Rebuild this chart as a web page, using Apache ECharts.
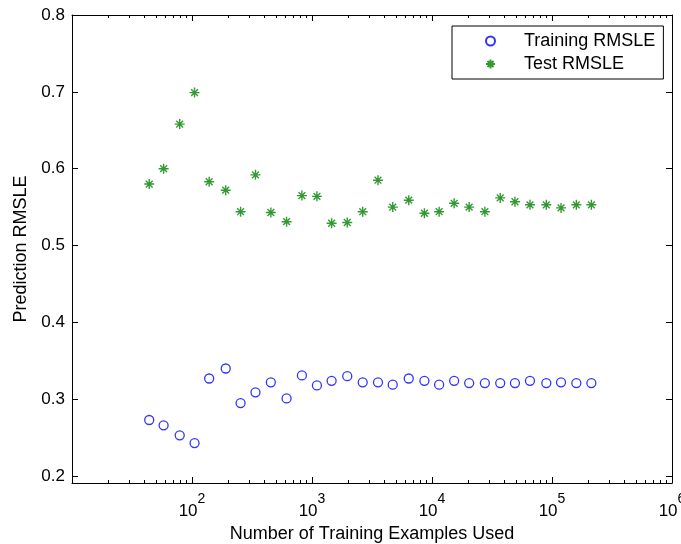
<!DOCTYPE html>
<html>
<head>
<meta charset="utf-8">
<script src="https://cdn.jsdelivr.net/npm/echarts@6/dist/echarts.min.js"></script>
<style>
  html, body { margin: 0; padding: 0; background: #fff; }
  #main { width: 681px; height: 544px; }
</style>
</head>
<body>
<div id="main"></div>
<script>
// training set sizes (x, log scale)
var trainSizes = [44, 58, 79, 105, 139, 191, 254, 338, 454, 614, 824, 1099, 1457, 1967, 2645,
  3548, 4708, 6401, 8643, 11465, 15292, 20401, 27583, 37027, 49120, 65525, 89644, 118900, 159500, 212800];
// RMSLE on training data
var trainRmsle = [0.273, 0.266, 0.253, 0.243, 0.327, 0.340, 0.295, 0.309, 0.322, 0.301, 0.331, 0.318, 0.324, 0.330, 0.322,
  0.322, 0.319, 0.327, 0.324, 0.319, 0.324, 0.321, 0.321, 0.321, 0.321, 0.324, 0.321, 0.322, 0.321, 0.321];
// RMSLE on test data
var testRmsle = [0.580, 0.600, 0.658, 0.699, 0.583, 0.572, 0.544, 0.592, 0.543, 0.531, 0.565, 0.564, 0.529, 0.530, 0.544,
  0.585, 0.550, 0.559, 0.542, 0.544, 0.555, 0.550, 0.544, 0.562, 0.557, 0.553, 0.553, 0.549, 0.553, 0.553];

var yTickValues = [0.2, 0.3, 0.4, 0.5, 0.6, 0.7, 0.8];
var yTickLabels = ['0.2', '0.3', '0.4', '0.5', '0.6', '0.7', '0.8'];
var xDecades = [1, 2, 3, 4, 5];          // 10^1 .. 10^5, each followed by a decade
var minorMultipliers = [2, 3, 4, 5, 6, 7, 8, 9];

var FONT = '"Liberation Sans", Arial, sans-serif';
var INK = '#000';

// minor ticks of the log axis, placed on a helper axis in log10 units
var minorTicks = [];
for (var i = 0; i < xDecades.length; i++) {
  for (var j = 0; j < minorMultipliers.length; j++) {
    minorTicks.push(xDecades[i] + Math.log10(minorMultipliers[j]));
  }
}

function pairs(xs, ys) {
  var out = [];
  for (var k = 0; k < xs.length; k++) out.push([xs[k], ys[k]]);
  return out;
}

var chart = echarts.init(document.getElementById('main'), null, { renderer: 'canvas' });

var lineStyle = { color: INK, width: 1 };
var noSplit = { show: false };

var option = {
  animation: false,
  backgroundColor: '#fff',
  grid: { left: 72, right: 9, top: 15, bottom: 61, outerBoundsMode: 'none' },
  legend: {
    orient: 'vertical',
    left: 452,
    top: 26,
    padding: [5, 8, 5, 33],
    itemWidth: 9,
    itemHeight: 9,
    itemGap: 3,
    borderColor: INK,
    borderWidth: 1,
    backgroundColor: '#fff',
    textStyle: { fontFamily: FONT, fontSize: 18, color: INK, lineHeight: 20, padding: [0, 0, 0, 24] },
    data: ['Training RMSLE', 'Test RMSLE']
  },
  xAxis: [
    {
      type: 'log', logBase: 10, min: 10, max: 1000000, position: 'bottom',
      name: 'Number of Training Examples Used', nameLocation: 'middle', nameGap: 40,
      nameTextStyle: { fontFamily: FONT, fontSize: 18, color: INK },
      axisLine: { onZero: false, lineStyle: lineStyle },
      axisTick: { inside: true, length: 6, lineStyle: lineStyle },
      axisLabel: {
        margin: 9,
        color: INK,
        fontFamily: FONT,
        formatter: function (v) {
          var e = Math.round(Math.log10(v));
          if (e === 1) return '';
          return '{b|10}{s|' + e + '}';
        },
        rich: {
          b: { fontFamily: FONT, fontSize: 17, color: INK, lineHeight: 28, verticalAlign: 'bottom' },
          s: { fontFamily: FONT, fontSize: 14, color: INK, lineHeight: 28, verticalAlign: 'top' }
        }
      },
      splitLine: noSplit
    },
    {
      type: 'value', min: 1, max: 6, position: 'bottom',
      axisLine: { show: false, onZero: false },
      axisTick: { inside: true, length: 3, customValues: minorTicks, lineStyle: lineStyle },
      axisLabel: { show: false },
      splitLine: noSplit
    },
    {
      type: 'log', logBase: 10, min: 10, max: 1000000, position: 'top',
      axisLine: { onZero: false, lineStyle: lineStyle },
      axisTick: { inside: true, length: 6, lineStyle: lineStyle },
      axisLabel: { show: false },
      splitLine: noSplit
    },
    {
      type: 'value', min: 1, max: 6, position: 'top',
      axisLine: { show: false, onZero: false },
      axisTick: { inside: true, length: 3, customValues: minorTicks, lineStyle: lineStyle },
      axisLabel: { show: false },
      splitLine: noSplit
    }
  ],
  yAxis: [
    {
      type: 'value', min: 0.191, max: 0.8, position: 'left',
      name: 'Prediction RMSLE', nameLocation: 'middle', nameGap: 42,
      nameTextStyle: { fontFamily: FONT, fontSize: 18, color: INK },
      axisLine: { show: true, onZero: false, lineStyle: lineStyle },
      axisTick: { show: true, inside: true, length: 6, customValues: yTickValues, lineStyle: lineStyle },
      axisLabel: {
        customValues: yTickValues,
        margin: 7,
        fontFamily: FONT,
        fontSize: 17,
        color: INK,
        formatter: function (v) {
          return yTickLabels[yTickValues.indexOf(v)];
        }
      },
      splitLine: noSplit
    },
    {
      type: 'value', min: 0.191, max: 0.8, position: 'right',
      axisLine: { show: true, onZero: false, lineStyle: lineStyle },
      axisTick: { show: true, inside: true, length: 6, customValues: yTickValues, lineStyle: lineStyle },
      axisLabel: { show: false },
      splitLine: noSplit
    }
  ],
  series: [
    {
      name: 'Training RMSLE',
      type: 'scatter',
      xAxisIndex: 0, yAxisIndex: 0,
      symbol: 'circle',
      symbolSize: 9,
      itemStyle: { color: 'rgba(0,0,0,0)', borderColor: '#0000ff', borderWidth: 1.3 },
      data: pairs(trainSizes, trainRmsle)
    },
    {
      name: 'Test RMSLE',
      type: 'scatter',
      xAxisIndex: 0, yAxisIndex: 0,
      symbol: 'path://M0,5L10,5M5,0L5,10M1.6,1.6L8.4,8.4M8.4,1.6L1.6,8.4',
      symbolSize: 10,
      itemStyle: { color: 'rgba(0,0,0,0)', borderColor: '#008000', borderWidth: 1.4 },
      data: pairs(trainSizes, testRmsle)
    }
  ]
};

chart.setOption(option);
</script>
</body>
</html>
